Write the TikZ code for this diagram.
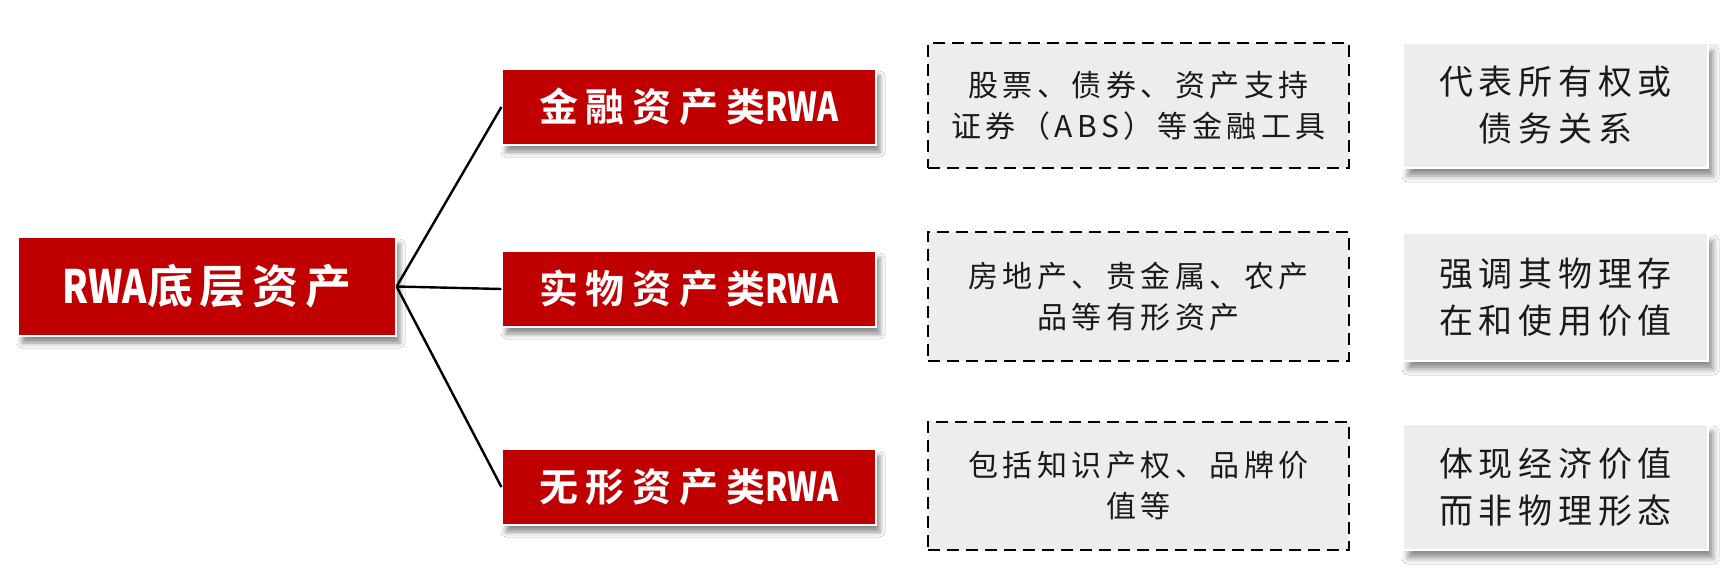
\documentclass[tikz,border=0pt]{standalone}
\usepackage{fontspec}
\usepackage{graphicx}
\usetikzlibrary{shadows.blur}
\newfontfamily\cjkplain{Noto Sans CJK SC}
\newfontfamily\cjkdash[LetterSpace=15]{Noto Sans CJK SC}
\newfontfamily\cjkgray[LetterSpace=17]{Noto Sans CJK SC}
\newfontfamily\cjkred[LetterSpace=20,BoldFont={Noto Sans CJK SC Bold}]{Noto Sans CJK SC}
\newfontfamily\cjkroot[LetterSpace=15,BoldFont={Noto Sans CJK SC Bold}]{Noto Sans CJK SC}
\definecolor{rwared}{HTML}{C00000}
\definecolor{boxgray}{HTML}{EDEDED}
\definecolor{txtdark}{HTML}{1A1A1A}
\newcommand{\rwa}[1]{{\cjkplain\bfseries\fontsize{#1}{#1}\selectfont\scalebox{0.8}[1]{RWA}}}
\begin{document}
\begin{tikzpicture}[x=1pt,y=-1pt,
  redbox/.style={fill=rwared, draw=white, line width=1.2pt, text=white, inner sep=0pt,
    blur shadow={shadow xshift=4pt, shadow yshift=-7pt, shadow blur radius=5pt, shadow opacity=45}},
  dashbox/.style={fill=boxgray, draw=black, line width=2.8pt, dash pattern=on 12pt off 7pt,
    text=txtdark, align=center, inner sep=0pt, minimum width=421pt,
    font={\cjkdash\fontsize{30}{41}\selectfont}},
  graybox/.style={fill=boxgray, draw=white, line width=2pt, text=txtdark, align=center, inner sep=0pt,
    minimum width=305pt, font={\cjkgray\fontsize{34}{47}\selectfont},
    blur shadow={shadow xshift=5pt, shadow yshift=-8pt, shadow blur radius=6pt, shadow opacity=45}},
  conn/.style={draw=black, line width=2.4pt}
]
\useasboundingbox (0,0) rectangle (1731,585);
\fill[white] (0,0) rectangle (1731,585);

% root
\node[redbox, minimum width=378pt, minimum height=99pt] (root) at (207,286.5)
  {\rwa{46}{\cjkroot\bfseries\fontsize{46}{46}\selectfont 底层资产}};

% category boxes
\node[redbox, minimum width=374pt, minimum height=76pt] (r1) at (689,107)
  {{\cjkred\bfseries\fontsize{39}{39}\selectfont 金融资产类}\rwa{40}};
\node[redbox, minimum width=374pt, minimum height=76pt] (r2) at (689,289)
  {{\cjkred\bfseries\fontsize{39}{39}\selectfont 实物资产类}\rwa{40}};
\node[redbox, minimum width=374pt, minimum height=76pt] (r3) at (689,487)
  {{\cjkred\bfseries\fontsize{39}{39}\selectfont 无形资产类}\rwa{40}};

% connectors
\draw[conn] (root.east) -- (r1.west);
\draw[conn] (root.east) -- (r2.west);
\draw[conn] (root.east) -- (r3.west);

% dashed description boxes
\node[dashbox, minimum height=125pt] (d1) at (1138.5,105.5)
  {股票、债券、资产支持\\证券（ABS）等金融工具};
\node[dashbox, minimum height=129pt] (d2) at (1138.5,296.5)
  {房地产、贵金属、农产\\品等有形资产};
\node[dashbox, minimum height=128pt] (d3) at (1138.5,486)
  {包括知识产权、品牌价\\值等};

% gray feature boxes
\node[graybox, minimum height=125pt] (g1) at (1555.5,105.5)
  {代表所有权或\\债务关系};
\node[graybox, minimum height=128pt] (g2) at (1555.5,297)
  {强调其物理存\\在和使用价值};
\node[graybox, minimum height=126pt] (g3) at (1555.5,487)
  {体现经济价值\\而非物理形态};
\end{tikzpicture}
\end{document}
